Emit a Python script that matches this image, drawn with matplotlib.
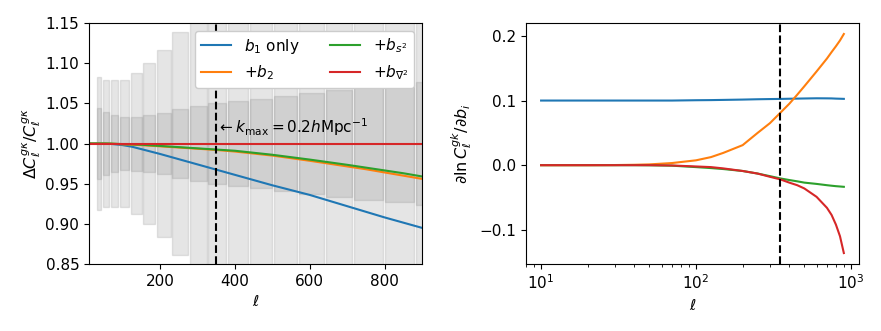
import matplotlib

matplotlib.use("Agg")

import matplotlib.pyplot as plt
from matplotlib.ticker import MultipleLocator

plt.rcParams['font.size'] = 11

# multipoles where the curves are sampled
ell = [10, 20, 30, 40, 50, 70, 100, 125, 150, 200, 250, 300, 350, 400, 450,
       500, 600, 700, 750, 800, 850, 900]

# left panel: ratio of C_l^{g kappa} for each bias model
ratio_b1 = [1.0, 1.0, 1.0, 1.0, 0.9999, 0.9995, 0.998, 0.996, 0.993, 0.987, 0.9805,
            0.974, 0.9675, 0.961, 0.9545, 0.948, 0.936, 0.922, 0.915, 0.908, 0.9015, 0.895]
ratio_b2 = [1.0, 1.0, 1.0, 1.0, 1.0, 0.9998, 0.999, 0.9985, 0.998, 0.9965, 0.995,
            0.9935, 0.992, 0.990, 0.9875, 0.985, 0.9785, 0.9715, 0.968, 0.964, 0.960, 0.956]
ratio_bs2 = [1.0, 1.0, 1.0, 1.0, 1.0, 0.9999, 0.9993, 0.999, 0.9985, 0.997, 0.9955,
             0.994, 0.9925, 0.991, 0.9885, 0.986, 0.980, 0.9735, 0.970, 0.9665, 0.963, 0.959]
ratio_bn2 = [1.0] * len(ell)

# right panel: d ln C / d b_i
dlnc_b1 = [0.1, 0.1, 0.1, 0.1, 0.1, 0.1, 0.1005, 0.1007, 0.101, 0.1015, 0.102,
           0.1023, 0.1025, 0.1028, 0.103, 0.1032, 0.1035, 0.1034, 0.1033, 0.103, 0.1028, 0.1026]
dlnc_b2 = [0.0, 0.0, 0.0002, 0.0006, 0.0012, 0.0033, 0.0075, 0.0125, 0.019, 0.031, 0.050,
           0.065, 0.081, 0.095, 0.109, 0.122, 0.145, 0.165, 0.175, 0.184, 0.193, 0.203]
dlnc_bs2 = [0.0, 0.0, 0.0, 0.0, -0.0002, -0.0008, -0.003, -0.0045, -0.006, -0.009, -0.013,
            -0.017, -0.0205, -0.023, -0.025, -0.027, -0.029, -0.031, -0.0318, -0.0325, -0.033, -0.0335]
dlnc_bn2 = [0.0, 0.0, 0.0, 0.0, 0.0, -0.0005, -0.002, -0.003, -0.005, -0.009, -0.013,
            -0.018, -0.022, -0.027, -0.031, -0.036, -0.049, -0.066, -0.077, -0.092, -0.110, -0.136]

# bandpowers: bin edges and fractional errors (outer / inner)
bin_lo = [31, 48, 69, 93, 123, 155, 192, 233, 279, 329, 382, 441, 505, 571, 643, 719, 800, 883]
bin_hi = [43, 64, 88, 117, 151, 187, 229, 274, 325, 377, 435, 500, 566, 637, 714, 795, 879, 960]
sig_outer = [0.083, 0.079, 0.079, 0.079, 0.088, 0.100, 0.116, 0.139, 0.165,
             0.19, 0.22, 0.25, 0.28, 0.31, 0.34, 0.37, 0.40, 0.43]
sig_inner = [0.0445, 0.039, 0.0353, 0.0332, 0.0336, 0.0353, 0.0378, 0.0428, 0.047,
             0.0503, 0.053, 0.0557, 0.059, 0.0627, 0.067, 0.070, 0.0727, 0.077]

ell_kmax = 350

labels = [r'$b_1$ only', r'$+b_2$', r'$+b_{s^2}$', r'$+b_{\nabla^2}$']
colors = ['C0', 'C1', 'C2', 'C3']

fig = plt.figure(figsize=(8.81, 3.31), dpi=100)
ax1 = fig.add_axes([0.101, 0.2024, 0.378, 0.728])
ax2 = fig.add_axes([0.597, 0.2024, 0.378, 0.728])

widths = [h - l for l, h in zip(bin_lo, bin_hi)]
for sig in (sig_outer, sig_inner):
    ax1.bar(bin_lo, [2 * s for s in sig], bottom=[1 - s for s in sig], width=widths,
            align='edge', color='gray', alpha=0.2, edgecolor='gray', linewidth=1)

for y, c, lab in zip([ratio_b1, ratio_b2, ratio_bs2, ratio_bn2], colors, labels):
    ax1.plot(ell, y, color=c, label=lab, lw=1.5)

ax1.axvline(ell_kmax, color='k', ls='--', lw=1.5)
ax1.text(ell_kmax + 2, 1.021, r'$\leftarrow k_{\rm max}=0.2h{\rm Mpc}^{-1}$', va='center', fontsize=11)
ax1.set_xlim(10, 900)
ax1.set_ylim(0.85, 1.15)
ax1.set_xlabel(r'$\ell$')
ax1.set_ylabel(r'$\Delta C_\ell^{g\kappa}/C_\ell^{g\kappa}$', fontsize=11.5, labelpad=2)
ax1.legend(loc='upper right', ncol=2, fontsize=11, framealpha=1.0)

for y, c in zip([dlnc_b1, dlnc_b2, dlnc_bs2, dlnc_bn2], colors):
    ax2.plot(ell, y, color=c, lw=1.5)
ax2.axvline(ell_kmax, color='k', ls='--', lw=1.5)
ax2.set_xscale('log')
ax2.yaxis.set_major_locator(MultipleLocator(0.1))
ax2.set_xlabel(r'$\ell$')
ax2.set_ylabel(r'$\partial \ln C_\ell^{gk}/\partial b_i$', fontsize=11.5)

plt.savefig("out.png", dpi=100)
